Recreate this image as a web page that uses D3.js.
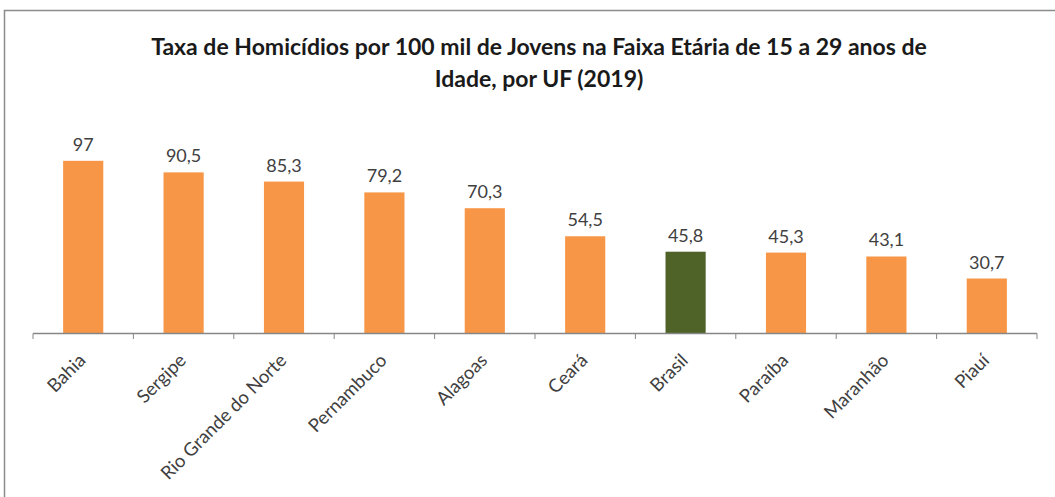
<!DOCTYPE html>
<html>
<head>
<meta charset="utf-8">
<script src="https://cdn.jsdelivr.net/npm/d3@7"></script>
<style>
  body { margin: 0; background: #fff; }
  svg { display: block; }
</style>
</head>
<body>
<svg id="chart" width="1055" height="497"></svg>
<script>
// data
const states = ["Bahia", "Sergipe", "Rio Grande do Norte", "Pernambuco", "Alagoas",
                "Ceará", "Brasil", "Paraíba", "Maranhão", "Piauí"];
const rates = [97, 90.5, 85.3, 79.2, 70.3, 54.5, 45.8, 45.3, 43.1, 30.7];
const highlight = ["Brasil"];
const titleLines = [
  "Taxa de Homicídios por 100 mil de Jovens na Faixa Etária de 15 a 29 anos de",
  "Idade, por UF (2019)"
];

const svg = d3.select("#chart");
const font = "Lato, 'Open Sans', sans-serif";

// outer chart frame
svg.append("rect")
  .attr("x", 4.5).attr("y", 10.5)
  .attr("width", 1100).attr("height", 500)
  .attr("fill", "#fff")
  .attr("stroke", "#8c8c8c")
  .attr("stroke-width", 1.5);

svg.append("g").selectAll("text")
  .data(titleLines)
  .join("text")
  .attr("x", 539)
  .attr("y", (d, i) => 55 + i * 32)
  .attr("text-anchor", "middle")
  .style("font-family", font)
  .style("font-weight", "bold")
  .style("font-size", "23px")
  .attr("fill", "#1a1a1a")
  .text(d => d);

const x = d3.scaleBand()
  .domain(states)
  .range([33, 1037])
  .paddingInner(0.6)
  .paddingOuter(0.3);

const y = d3.scaleLinear()
  .domain([0, 120])
  .range([333, 120]);

svg.append("g")
  .selectAll("rect")
  .data(states)
  .join("rect")
  .attr("x", d => x(d))
  .attr("y", (d, i) => y(rates[i]))
  .attr("width", x.bandwidth())
  .attr("height", (d, i) => y(0) - y(rates[i]))
  .attr("fill", d => highlight.includes(d) ? "#4f6228" : "#f79646");

svg.append("g")
  .selectAll("text")
  .data(states)
  .join("text")
  .attr("x", d => x(d) + x.bandwidth() / 2)
  .attr("y", (d, i) => y(rates[i]) - 10)
  .attr("text-anchor", "middle")
  .style("font-family", font)
  .style("font-size", "18px")
  .attr("fill", "#404040")
  .text((d, i) => String(rates[i]).replace(".", ","));

// category axis with ticks between bars
const tickPos = d3.range(states.length + 1).map(i => 33 + i * (1004 / states.length));
const axis = svg.append("g");
axis.append("line")
  .attr("x1", 33).attr("x2", 1037)
  .attr("y1", 333.5).attr("y2", 333.5)
  .attr("stroke", "#868686").attr("stroke-width", 1.3);
axis.selectAll(".tick")
  .data(tickPos)
  .join("line")
  .attr("class", "tick")
  .attr("x1", d => d).attr("x2", d => d)
  .attr("y1", 333.5).attr("y2", 339)
  .attr("stroke", "#868686");

axis.selectAll(".lbl")
  .data(states)
  .join("text")
  .attr("class", "lbl")
  .attr("transform", d => `translate(${x(d) + x.bandwidth() / 2 - 1},${357}) rotate(-45)`)
  .attr("text-anchor", "end")
  .attr("dy", "0.35em")
  .style("font-family", font)
  .style("font-size", "18.5px")
  .attr("fill", "#404040")
  .text(d => d);
</script>
</body>
</html>
